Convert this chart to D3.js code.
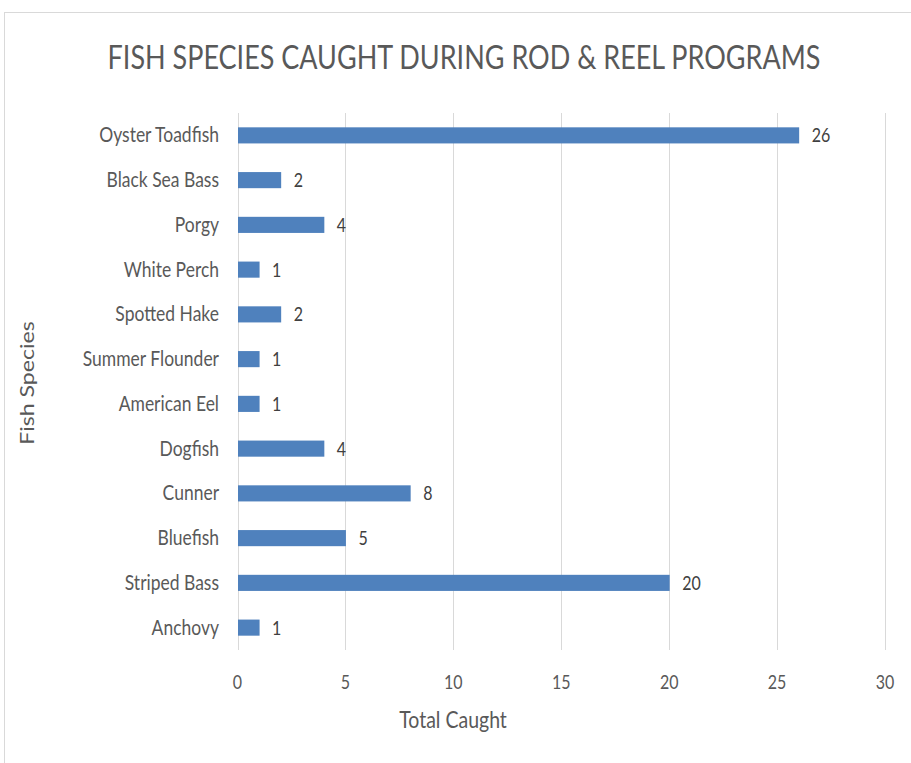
<!DOCTYPE html>
<html>
<head>
<meta charset="utf-8">
<script src="https://cdn.jsdelivr.net/npm/d3@7/dist/d3.min.js"></script>
<style>
  html, body { margin: 0; padding: 0; background: #ffffff; }
  svg { display: block; }
  text { font-family: Lato, "Open Sans", sans-serif; }
</style>
</head>
<body>
<svg id="chart" width="911" height="763"></svg>
<script>
// Fish species caught during rod & reel programs (top to bottom)
const species = ["Oyster Toadfish", "Black Sea Bass", "Porgy", "White Perch", "Spotted Hake",
  "Summer Flounder", "American Eel", "Dogfish", "Cunner", "Bluefish", "Striped Bass", "Anchovy"];
const caught = [26, 2, 4, 1, 2, 1, 1, 4, 8, 5, 20, 1];
const xTicks = [0, 5, 10, 15, 20, 25, 30];

const titleText = "FISH SPECIES CAUGHT DURING ROD & REEL PROGRAMS";
const xTitle = "Total Caught";
const yTitle = "Fish Species";

const svg = d3.select("#chart");
const W = 911, H = 763;
const plot = { left: 237.5, right: 885, top: 113, bottom: 650 };

// chart frame
svg.append("rect")
  .attr("x", 4.5).attr("y", 12.5)
  .attr("width", W + 20).attr("height", H + 20)
  .attr("fill", "#ffffff").attr("stroke", "#d9d9d9").attr("stroke-width", 1);

const x = d3.scaleLinear().domain([0, 30]).range([plot.left, plot.right]);
const y = d3.scaleBand().domain(species).range([plot.top, plot.bottom]).paddingInner(0.64).paddingOuter(0.32);

// text helper: the typeface is drawn slightly tall and narrow
function label(g, px, py, str, size, sy, anchor, fill, weight) {
  return g.append("text")
    .attr("transform", `translate(${px},${py}) scale(1,${sy})`)
    .attr("text-anchor", anchor)
    .attr("font-size", size)
    .attr("font-weight", weight || 400)
    .attr("fill", fill)
    .text(str);
}

// vertical gridlines
svg.append("g").selectAll("line")
  .data(xTicks)
  .join("line")
  .attr("x1", d => Math.round(x(d)) + 0.5).attr("x2", d => Math.round(x(d)) + 0.5)
  .attr("y1", plot.top).attr("y2", plot.bottom)
  .attr("stroke", "#d9d9d9").attr("stroke-width", 1);

// bars
svg.append("g").selectAll("rect")
  .data(species)
  .join("rect")
  .attr("x", x(0) + 0.5)
  .attr("y", d => y(d))
  .attr("width", (d, i) => x(caught[i]) - x(0))
  .attr("height", y.bandwidth())
  .attr("fill", "#4f81bd");

// value labels
const vals = svg.append("g");
species.forEach((s, i) => {
  label(vals, x(caught[i]) + 13, y(s) + y.bandwidth() / 2 + 7, String(caught[i]), 16, 1.2, "start", "#404040");
});

// category labels
const cats = svg.append("g");
species.forEach(s => {
  label(cats, 219, y(s) + y.bandwidth() / 2 + 7, s, 17.5, 1.2, "end", "#595959");
});

// x tick labels
const ticks = svg.append("g");
xTicks.forEach(t => label(ticks, x(t), 689, String(t), 16, 1.2, "middle", "#595959"));

// axis titles
label(svg, 453, 728, xTitle, 19.5, 1.15, "middle", "#595959");
svg.append("text")
  .attr("transform", `translate(34,383) rotate(-90) scale(1.25,1)`)
  .attr("text-anchor", "middle")
  .attr("font-size", 18.5)
  .attr("fill", "#595959")
  .text(yTitle);

// chart title
label(svg, 464, 69, titleText, 27, 1.18, "middle", "#595959", 400);
</script>
</body>
</html>
